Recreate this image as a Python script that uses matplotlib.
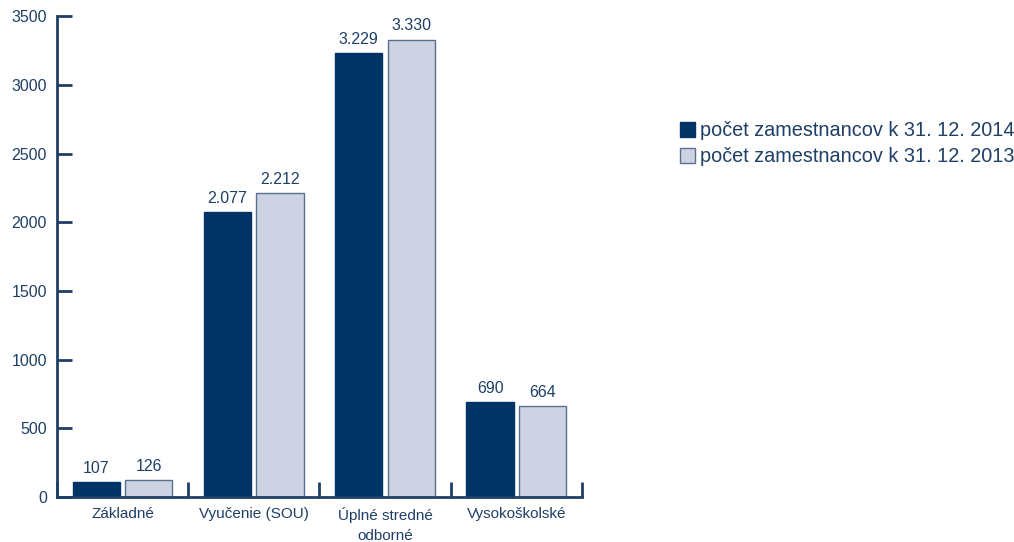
import matplotlib
matplotlib.use("Agg")
import matplotlib.pyplot as plt
import numpy as np
from matplotlib.patches import Patch

categories = ["Základné", "Vyučenie (SOU)", "Úplné stredné\nodborné", "Vysokoškolské"]
values_2014 = [107, 2077, 3229, 690]
values_2013 = [126, 2212, 3330, 664]
labels_2014 = ["107", "2.077", "3.229", "690"]
labels_2013 = ["126", "2.212", "3.330", "664"]
series_names = ["počet zamestnancov k 31. 12. 2014", "počet zamestnancov k 31. 12. 2013"]
yticks = [0, 500, 1000, 1500, 2000, 2500, 3000, 3500]

dark = "#003366"
light = "#CDD3E2"
edge_light = "#5A7090"
txt = "#1F3F66"
fam = ["Liberation Sans", "DejaVu Sans"]

fig = plt.figure(figsize=(10.14, 5.42), dpi=100)
ax = fig.add_axes([0.056, 0.083, 0.518, 0.887])

x = np.arange(len(categories))
w = 0.36
ax.bar(x - 0.2, values_2014, w, color=dark, edgecolor=dark, linewidth=1)
ax.bar(x + 0.2, values_2013, w, color=light, edgecolor=edge_light, linewidth=1)

for xi, v, l in zip(x, values_2014, labels_2014):
    ax.text(xi - 0.2, v + 45, l, ha="center", va="bottom", fontsize=11.5,
            color=txt, family=fam)
for xi, v, l in zip(x, values_2013, labels_2013):
    ax.text(xi + 0.2, v + 45, l, ha="center", va="bottom", fontsize=11.5,
            color=txt, family=fam)

ax.set_xlim(-0.5, 3.5)
ax.set_ylim(0, 3500)
ax.set_yticks(yticks)
ax.set_yticklabels([str(t) for t in yticks], fontsize=11.5, color=txt, family=fam)
ax.tick_params(axis="y", direction="in", length=11, width=2, color=txt, pad=7)

ax.set_xticks(x)
ax.set_xticklabels(categories, fontsize=11, color=txt, family=fam, linespacing=1.55)
ax.tick_params(axis="x", which="major", length=0, pad=7)
ax.set_xticks(np.arange(-0.5, 4.0, 1.0), minor=True)
ax.tick_params(axis="x", which="minor", direction="in", length=11, width=2, color=txt)

for s in ["top", "right"]:
    ax.spines[s].set_visible(False)
for s in ["left", "bottom"]:
    ax.spines[s].set_color(txt)
    ax.spines[s].set_linewidth(2)

handles = [Patch(facecolor=dark, edgecolor=dark), Patch(facecolor=light, edgecolor=edge_light)]
leg = fig.legend(handles, series_names, loc="upper left", bbox_to_anchor=(0.671, 0.776),
                 frameon=False, prop={"family": fam, "size": 14.3},
                 handlelength=0.75, handleheight=0.75, handletextpad=0.25, labelspacing=0.35,
                 borderaxespad=0, borderpad=0)
for t in leg.get_texts():
    t.set_color(txt)

fig.savefig("out.png", dpi=100)
